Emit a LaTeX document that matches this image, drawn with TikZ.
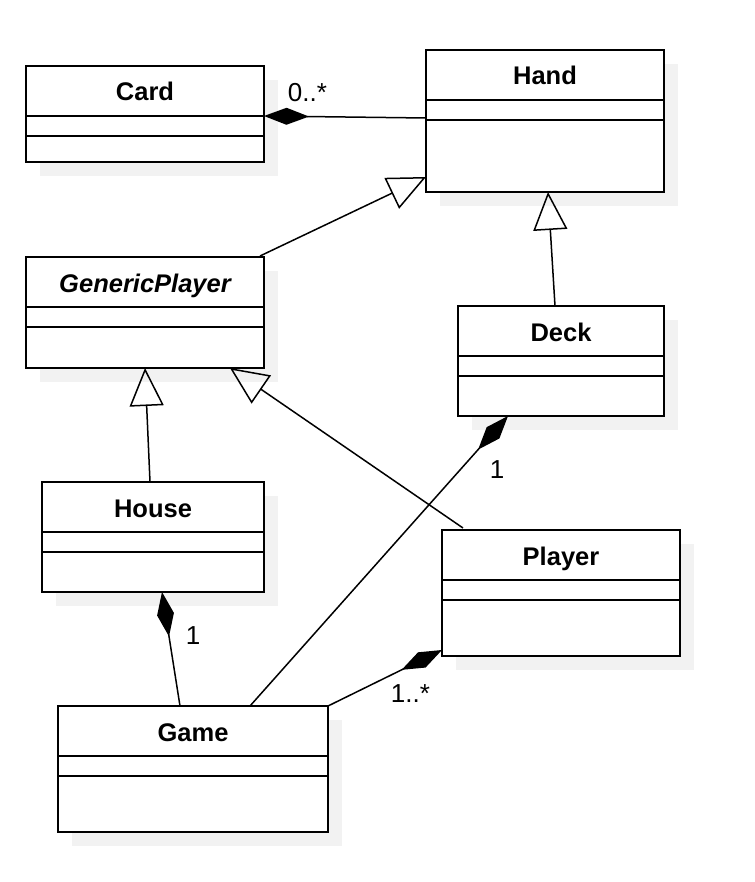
\documentclass[tikz,border=0pt]{standalone}
\usepackage{fontspec}
\setmainfont{Liberation Sans}
\usepackage{tikz}
\usetikzlibrary{arrows.meta,shadows}
\definecolor{shadowgray}{RGB}{242,242,242}

\begin{document}
\begin{tikzpicture}[x=1pt,y=-1pt,
    cls/.style={draw,line width=2pt,fill=white,inner sep=0pt,outer sep=0pt,
      drop shadow={shadow xshift=14pt,shadow yshift=-14pt,fill=shadowgray,opacity=1}},
    title/.style={anchor=base,font=\bfseries\fontsize{25.5}{30}\selectfont},
    mult/.style={anchor=base,font=\fontsize{26}{31}\selectfont},
    sep/.style={line width=2pt},
    gen/.style={line width=1.5pt,-{Triangle[open,length=38pt,width=34pt]}},
    comp/.style={line width=1.5pt,-{Diamond[length=45pt,width=17pt]}}]
      \useasboundingbox (0,0) rectangle (754,882);

      \node[cls,minimum width=238,minimum height=96]  (card)    at (145,114)   {};
      \node[cls,minimum width=238,minimum height=142] (hand)    at (545,121)   {};
      \node[cls,minimum width=238,minimum height=111] (gplayer) at (145,312.5) {};
      \node[cls,minimum width=206,minimum height=110] (deck)    at (561,361)   {};
      \node[cls,minimum width=222,minimum height=110] (house)   at (153,537)   {};
      \node[cls,minimum width=238,minimum height=126] (player)  at (561,593)   {};
      \node[cls,minimum width=270,minimum height=126] (game)    at (193,769)   {};

      \foreach \c in {card,hand,gplayer,deck,house,player,game}
        \draw[sep] ([shift={(0,50)}]\c.north west) -- ([shift={(0,50)}]\c.north east)
                   ([shift={(0,70)}]\c.north west) -- ([shift={(0,70)}]\c.north east);

      \node[title] (cardName)    at ([shift={(0,35)}]card.north)    {Card};
      \node[title] (handName)    at ([shift={(0,35)}]hand.north)    {Hand};
      \node[title] (gplayerName) at ([shift={(0,35)}]gplayer.north) {\itshape GenericPlayer};
      \node[title] (deckName)    at ([shift={(0,35)}]deck.north)    {Deck};
      \node[title] (houseName)   at ([shift={(0,35)}]house.north)   {House};
      \node[title] (playerName)  at ([shift={(0,35)}]player.north)  {Player};
      \node[title] (gameName)    at ([shift={(0,35)}]game.north)    {Game};

      \path
      ([shift={(0,-3)}]hand.west) edge[comp] ([shift={(0,2)}]card.east)

      ([shift={(-4,-1)}]gplayer.north east) edge[gen] ([shift={(0,56)}]hand.west)
      ([shift={(-6,0)}]deck.north) edge[gen] ([shift={(3,0)}]hand.south)

      ([shift={(-3,0)}]house.north) edge[gen] (gplayer.south)
      ([shift={(-98,-2)}]player.north) edge[gen] ([shift={(85,0)}]gplayer.south)

      ([shift={(57,0)}]game.north) edge[comp] ([shift={(-53,0)}]deck.south)
      ([shift={(-13,0)}]game.north) edge[comp] ([shift={(9,0)}]house.south)
      (game.north east) edge[comp] ([shift={(0,-6)}]player.south west)
      ;

      \node[mult] (cardMult)   at (307.5,102) {0..*};
      \node[mult] (deckMult)   at (497,478)   {1};
      \node[mult] (houseMult)  at (193,644)   {1};
      \node[mult] (playerMult) at (410.5,702.5) {1..*};
    \end{tikzpicture}
\end{document}
